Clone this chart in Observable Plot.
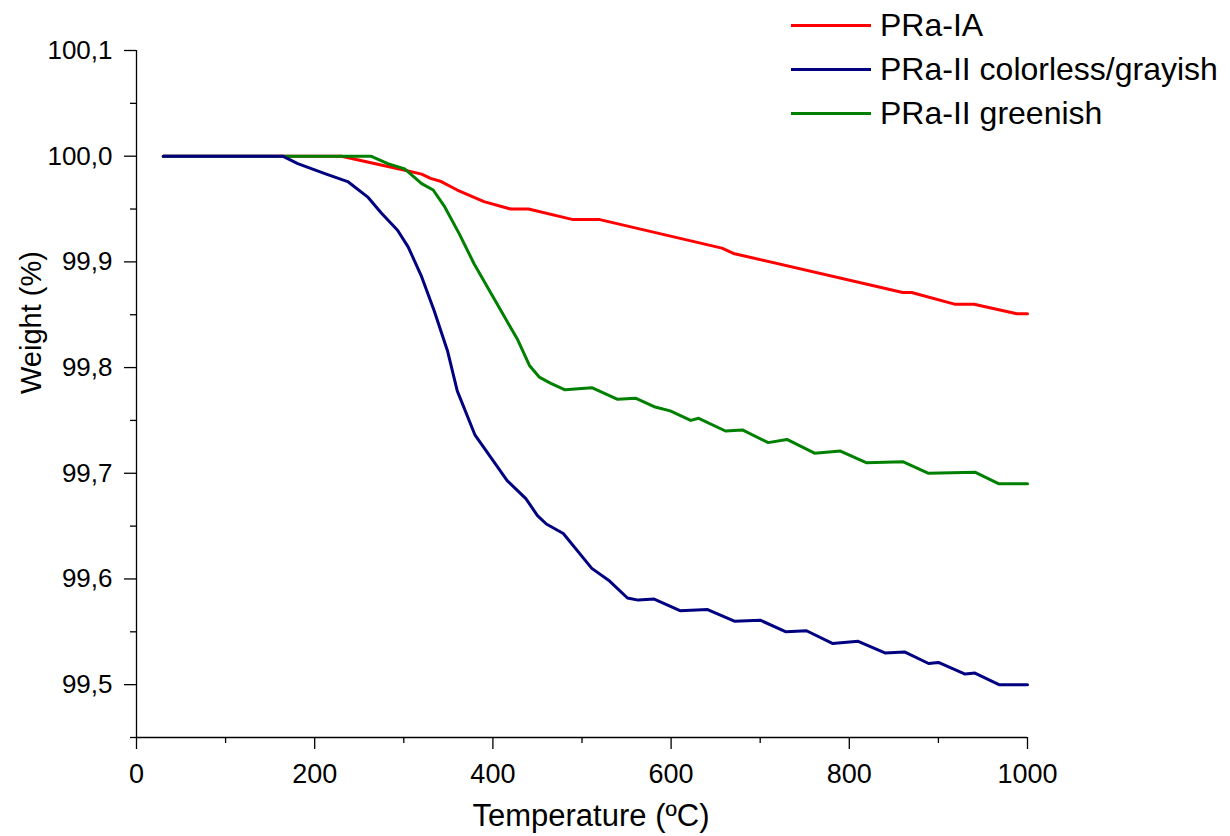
<!DOCTYPE html>
<html>
<head>
<meta charset="utf-8">
<script src="https://cdn.jsdelivr.net/npm/d3@7"></script>
<script src="https://cdn.jsdelivr.net/npm/@observablehq/plot@0.6"></script>
<style>
  html, body { margin: 0; padding: 0; background: #fff; }
  #wrap { position: relative; width: 1230px; height: 836px; overflow: hidden; font-family: "Liberation Sans", Arial, sans-serif; }
  #legend { position: absolute; left: 791px; top: 3px; }
  .row { display: flex; align-items: center; height: 44px; white-space: nowrap; }
  .swatch { width: 80px; height: 3px; margin-right: 9px; }
  .lab { font-size: 32px; color: #000; line-height: 1; }
</style>
</head>
<body>
<div id="wrap"><div id="legend"></div></div>
<script>
// ---- Data ----
const seriesNames = ["PRa-IA", "PRa-II colorless/grayish", "PRa-II greenish"];
const seriesColors = ["#ff0000", "#000080", "#008000"];

const redT = [30, 230, 300, 320, 330, 342, 360, 390, 420, 440, 490, 520, 657, 670, 860, 870, 918, 940, 988, 1000];
const redW = [100.000, 100.000, 99.987, 99.983, 99.979, 99.976, 99.968, 99.957, 99.950, 99.950, 99.940, 99.940, 99.913, 99.908, 99.871, 99.871, 99.860, 99.860, 99.851, 99.851];

const blueT = [30, 164, 181, 200, 213, 237, 260, 275, 293, 305, 320, 334, 349, 360, 380, 401, 416, 437, 450, 460, 479, 511, 531, 551, 563, 581, 610, 641, 671, 700, 729, 752, 781, 810, 840, 862, 889, 900, 930, 941, 968, 1000];
const blueW = [100, 100, 99.993, 99.987, 99.983, 99.976, 99.961, 99.946, 99.930, 99.914, 99.886, 99.854, 99.816, 99.778, 99.736, 99.711, 99.693, 99.676, 99.660, 99.652, 99.643, 99.610, 99.598, 99.582, 99.580, 99.581, 99.570, 99.571, 99.560, 99.561, 99.550, 99.551, 99.539, 99.541, 99.530, 99.531, 99.520, 99.521, 99.510, 99.511, 99.500, 99.500];

const greenT = [30, 263, 282, 301, 320, 333, 346, 362, 379, 398, 413, 428, 441, 452, 465, 481, 511, 540, 560, 581, 599, 622, 631, 661, 680, 709, 730, 761, 790, 819, 860, 889, 941, 968, 1000];
const greenW = [100, 100, 99.993, 99.988, 99.974, 99.968, 99.952, 99.927, 99.898, 99.870, 99.848, 99.826, 99.802, 99.791, 99.785, 99.779, 99.781, 99.770, 99.771, 99.763, 99.759, 99.750, 99.752, 99.740, 99.741, 99.729, 99.732, 99.719, 99.721, 99.710, 99.711, 99.700, 99.701, 99.690, 99.690];

const xTicks = [0, 200, 400, 600, 800, 1000];
const xMinorTicks = [100, 300, 500, 700, 900];
const yTicks = [99.5, 99.6, 99.7, 99.8, 99.9, 100.0, 100.1];
const yMinorTicks = [99.45, 99.55, 99.65, 99.75, 99.85, 99.95, 100.05];

const xLabel = "Temperature (ºC)";
const yLabel = "Weight (%)";

// ---- Build table ----
const toRows = (T, W, s) => T.map((t, i) => ({T: t, W: W[i], series: s}));
const rows = {
  red: toRows(redT, redW, seriesNames[0]),
  blue: toRows(blueT, blueW, seriesNames[1]),
  green: toRows(greenT, greenW, seriesNames[2])
};

const fmtY = d => d3.format(".1f")(d).replace(".", ",");
const fmtX = d => d3.format("d")(d);

const chart = Plot.plot({
  width: 1230,
  height: 836,
  marginLeft: 136,
  marginRight: 203,
  marginTop: 50,
  marginBottom: 99,
  style: {fontFamily: "Liberation Sans, Arial, sans-serif", color: "#000", background: "#fff", overflow: "visible"},
  x: {domain: [0, 1000]},
  y: {domain: [99.45, 100.1]},
  marks: [
    // minor ticks
    Plot.axisX({ticks: xMinorTicks, tickSize: 6, tickFormat: null, text: null, label: null, strokeWidth: 1.3}),
    Plot.axisY({ticks: yMinorTicks, tickSize: 6, tickFormat: null, text: null, label: null, strokeWidth: 1.3}),
    // major ticks
    Plot.axisX({ticks: xTicks, tickSize: 12, tickPadding: 14, fontSize: 27, tickFormat: fmtX, label: null, strokeWidth: 1.3}),
    Plot.axisY({ticks: yTicks, tickSize: 12, tickPadding: 12, fontSize: 26, tickFormat: fmtY, label: null, strokeWidth: 1.3}),
    // axis lines
    Plot.ruleX([0], {stroke: "#000", strokeWidth: 1.3}),
    Plot.ruleY([99.45], {stroke: "#000", strokeWidth: 1.3}),
    // series
    Plot.line(rows.red, {x: "T", y: "W", stroke: seriesColors[0], strokeWidth: 3}),
    Plot.line(rows.green, {x: "T", y: "W", stroke: seriesColors[2], strokeWidth: 3}),
    Plot.line(rows.blue, {x: "T", y: "W", stroke: seriesColors[1], strokeWidth: 3}),
    // axis titles
    Plot.text([xLabel], {text: d => d, frameAnchor: "bottom", dy: 79, dx: 9, fontSize: 31, lineAnchor: "middle", fill: "#000"}),
    Plot.text([yLabel], {text: d => d, frameAnchor: "left", dx: -105, rotate: -90, fontSize: 29, lineAnchor: "middle", fill: "#000"})
  ]
});

const wrap = document.getElementById("wrap");
wrap.insertBefore(chart, wrap.firstChild);

// legend
const legend = document.getElementById("legend");
seriesNames.forEach((name, i) => {
  const row = document.createElement("div");
  row.className = "row";
  const sw = document.createElement("div");
  sw.className = "swatch";
  sw.style.background = seriesColors[i];
  const lab = document.createElement("span");
  lab.className = "lab";
  lab.textContent = name;
  row.appendChild(sw);
  row.appendChild(lab);
  legend.appendChild(row);
});
</script>
</body>
</html>
